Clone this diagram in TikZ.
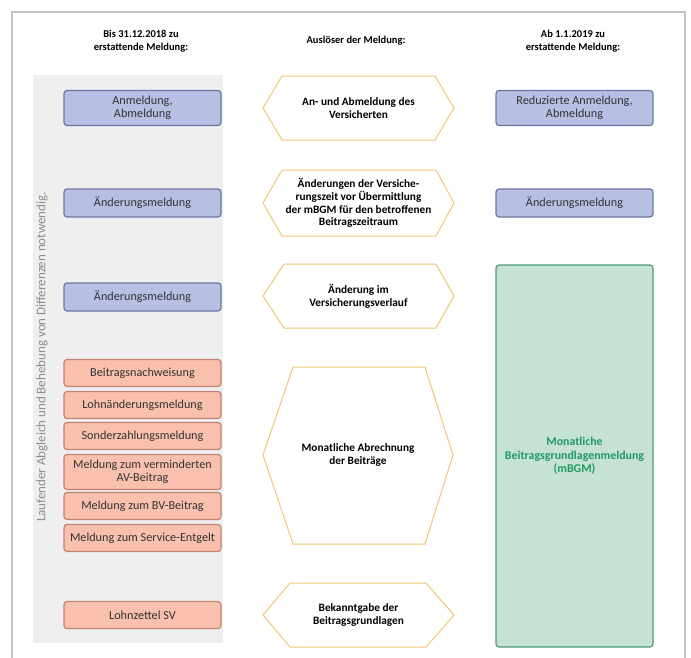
\documentclass[tikz,border=0pt]{standalone}
\usepackage{fontspec}
\setmainfont{Carlito}
\definecolor{frameC}{HTML}{C4C4C4}
\definecolor{panelC}{HTML}{EFEFEF}
\definecolor{blueF}{HTML}{B7BFE3}
\definecolor{blueD}{HTML}{6E76A6}
\definecolor{redF}{HTML}{F9C0AE}
\definecolor{redD}{HTML}{C08470}
\definecolor{greenF}{HTML}{C6E2D5}
\definecolor{greenD}{HTML}{4E9A7C}
\definecolor{greenT}{HTML}{1E9A62}
\definecolor{hexC}{HTML}{F2C675}
\tikzset{
  box/.style={draw, line width=1.2pt, rounded corners=3pt, minimum width=157pt, align=center, inner sep=2pt, font=\fontsize{12.2}{12.5}\selectfont, text=black!80},
  bluebox/.style={box, fill=blueF, draw=blueD},
  redbox/.style={box, fill=redF, draw=redD},
  hexline/.style={draw=hexC, line width=1pt, fill=white},
  hextext/.style={align=center, font=\bfseries\fontsize{11.3}{12.8}\selectfont},
  header/.style={align=center, font=\bfseries\fontsize{10.5}{13}\selectfont}
}
\begin{document}
\begin{tikzpicture}[x=1pt,y=-1pt]
\useasboundingbox (0,0) rectangle (691,657);
\fill[white] (0,0) rectangle (691,657);
\draw[frameC, line width=2pt] (12,670) -- (12,12) -- (685,12) -- (685,670);
\fill[panelC] (33,75) rectangle (223,643);
\node[rotate=90, text=black!45, font=\fontsize{13}{14}\selectfont] (side) at (42,357) {Laufender Abgleich und Behebung von Differenzen notwendig.};
% headers
\node[header] (h1) at (141,41) {Bis 31.12.2018 zu\\erstattende Meldung:};
\node[header] (h2) at (356,41) {Auslöser der Meldung:};
\node[header] (h3) at (573,41) {Ab 1.1.2019 zu\\erstattende Meldung:};
% left column
\node[bluebox, minimum height=35pt] (l1) at (142.5,108) {Anmeldung,\\Abmeldung};
\node[bluebox, minimum height=28pt] (l2) at (142.5,203) {Änderungsmeldung};
\node[bluebox, minimum height=28pt] (l3) at (142.5,297) {Änderungsmeldung};
\node[redbox, minimum height=27pt] (r1) at (142.5,373) {Beitragsnachweisung};
\node[redbox, minimum height=27pt] (r2) at (142.5,405) {Lohnänderungsmeldung};
\node[redbox, minimum height=27pt] (r3) at (142.5,436) {Sonderzahlungsmeldung};
\node[redbox, minimum height=35pt] (r4) at (142.5,472) {Meldung zum verminderten\\AV-Beitrag};
\node[redbox, minimum height=27pt] (r5) at (142.5,506) {Meldung zum BV-Beitrag};
\node[redbox, minimum height=27pt] (r6) at (142.5,538) {Meldung zum Service-Entgelt};
\node[redbox, minimum height=27pt] (r7) at (142.5,615) {Lohnzettel SV};
% hexagons
\draw[hexline] (263,108) -- (282,76) -- (435,76) -- (454,108) -- (435,140) -- (282,140) -- cycle;
\node[hextext] (t1) at (358.5,108) {An- und Abmeldung des\\Versicherten};
\draw[hexline] (263,203) -- (282,170) -- (436,170) -- (454,203) -- (436,236) -- (282,236) -- cycle;
\node[hextext] (t2) at (358.5,203) {Änderungen der Versiche-\\rungszeit vor Übermittlung\\der mBGM für den betroffenen\\Beitragszeitraum};
\draw[hexline] (263,296) -- (284,264) -- (436,264) -- (454,296) -- (436,328) -- (284,328) -- cycle;
\node[hextext] (t3) at (358.5,296) {Änderung im\\Versicherungsverlauf};
\draw[hexline] (263,455) -- (293,367) -- (425,367) -- (453,455) -- (425,544) -- (293,544) -- cycle;
\node[hextext] (t4) at (358,455) {Monatliche Abrechnung\\der Beiträge};
\draw[hexline] (263,615) -- (290,583) -- (426,583) -- (454,615) -- (426,647) -- (290,647) -- cycle;
\node[hextext] (t5) at (358.5,615) {Bekanntgabe der\\Beitragsgrundlagen};
% right column
\node[bluebox, minimum height=35pt] (n1) at (574.5,108) {Reduzierte Anmeldung,\\Abmeldung};
\node[bluebox, minimum height=28pt] (n2) at (574.5,203) {Änderungsmeldung};
\node[box, fill=greenF, draw=greenD, minimum height=382pt, text=greenT, font=\bfseries\fontsize{11.9}{13.5}\selectfont] (g) at (574.5,456) {Monatliche\\Beitragsgrundlagenmeldung\\(mBGM)};
\end{tikzpicture}
\end{document}
